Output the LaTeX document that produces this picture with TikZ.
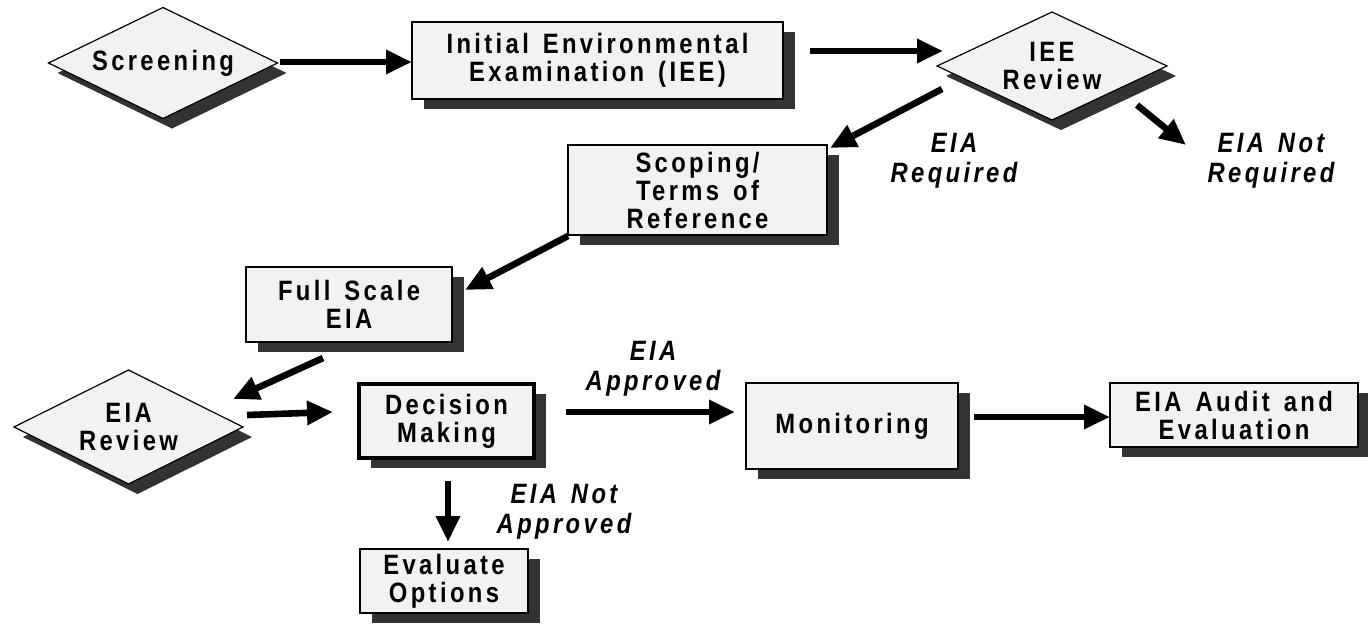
\documentclass[tikz,border=0pt]{standalone}
\usepackage{fontspec}
\setmainfont{Liberation Sans}[FakeStretch=0.85, LetterSpace=12, WordSpace=1.4]
\usetikzlibrary{shapes.geometric,arrows.meta,shadows}
\definecolor{boxfill}{HTML}{F2F2F2}
\definecolor{shade}{HTML}{333333}
\begin{document}
\begin{tikzpicture}[x=0.5pt,y=-0.5pt,
  every node/.style={font=\fontsize{14}{14}\selectfont\bfseries, align=center, inner sep=0pt, outer sep=0pt},
  stepbox/.style={rectangle, draw=black, line width=0.75pt, fill=boxfill,
    drop shadow={shadow xshift=6pt, shadow yshift=-4.75pt, opacity=1, fill=shade}},
  decbox/.style={stepbox, line width=1.6pt},
  choice/.style={diamond, aspect=2.1, draw=black, line width=0.6pt, fill=boxfill,
    drop shadow={shadow xshift=4.5pt, shadow yshift=-5pt, opacity=1, fill=shade}},
  lbl/.style={font=\fontsize{14}{15}\selectfont\bfseries\itshape},
  arr/.style={line width=3.3pt, -{Triangle[length=13pt,width=11.5pt]}}]
\useasboundingbox (0,0) rectangle (1368,627);
% nodes
\node[choice, minimum width=114.5pt, minimum height=55.5pt] (scr) at (163,63) {Screening};
\node[stepbox, minimum width=185.5pt, minimum height=38.5pt] (iee) at (597.5,60.5) {Initial Environmental\\Examination (IEE)};
\node[choice, minimum width=115pt, minimum height=54pt] (ieer) at (1052,66) {IEE\\Review};
\node[stepbox, minimum width=129.5pt, minimum height=45pt] (scop) at (697.5,190) {Scoping/\\Terms of\\Reference};
\node[stepbox, minimum width=103pt, minimum height=37.5pt] (full) at (349,304.5) {Full Scale\\EIA};
\node[choice, minimum width=114.5pt, minimum height=57pt] (eiar) at (128.5,427) {EIA\\Review};
\node[decbox, minimum width=87.5pt, minimum height=37pt] (dec) at (446.5,421) {Decision\\Making};
\node[stepbox, minimum width=106pt, minimum height=43pt] (mon) at (852,426) {Monitoring};
\node[stepbox, minimum width=124pt, minimum height=32pt] (aud) at (1234,415) {EIA Audit and\\Evaluation};
\node[stepbox, minimum width=84pt, minimum height=32pt] (eva) at (444,581) {Evaluate\\Options};
% labels
\node[lbl] (lreq) at (954,161) {EIA\\Required};
\node[lbl] (lnreq) at (1271,161) {EIA Not\\Required};
\node[lbl] (lapp) at (653,369) {EIA\\Approved};
\node[lbl] (lnapp) at (564,512) {EIA Not\\Approved};
% connector end points
\coordinate (a1s) at (280,62);   \coordinate (a1e) at (412,62);
\coordinate (a2s) at (810,51);   \coordinate (a2e) at (943,51);
\coordinate (a3s) at (942,89);   \coordinate (a3e) at (830,148);
\coordinate (a4s) at (1137,105); \coordinate (a4e) at (1186,145);
\coordinate (a5s) at (568,236);  \coordinate (a5e) at (465,290);
\coordinate (a6s) at (323,358);  \coordinate (a6e) at (233,399);
\coordinate (a7s) at (247,415);  \coordinate (a7e) at (333,412);
\coordinate (a8s) at (566,412);  \coordinate (a8e) at (735,412);
\coordinate (a9s) at (974,417);  \coordinate (a9e) at (1110,417);
\coordinate (a10s) at (448,481); \coordinate (a10e) at (448,542);
% connectors
\draw[arr] (a1s) -- (a1e);
\draw[arr] (a2s) -- (a2e);
\draw[arr] (a3s) -- (a3e);
\draw[arr] (a4s) -- (a4e);
\draw[arr] (a5s) -- (a5e);
\draw[arr] (a6s) -- (a6e);
\draw[arr] (a7s) -- (a7e);
\draw[arr] (a8s) -- (a8e);
\draw[arr] (a9s) -- (a9e);
\draw[arr] (a10s) -- (a10e);
\end{tikzpicture}
\end{document}
